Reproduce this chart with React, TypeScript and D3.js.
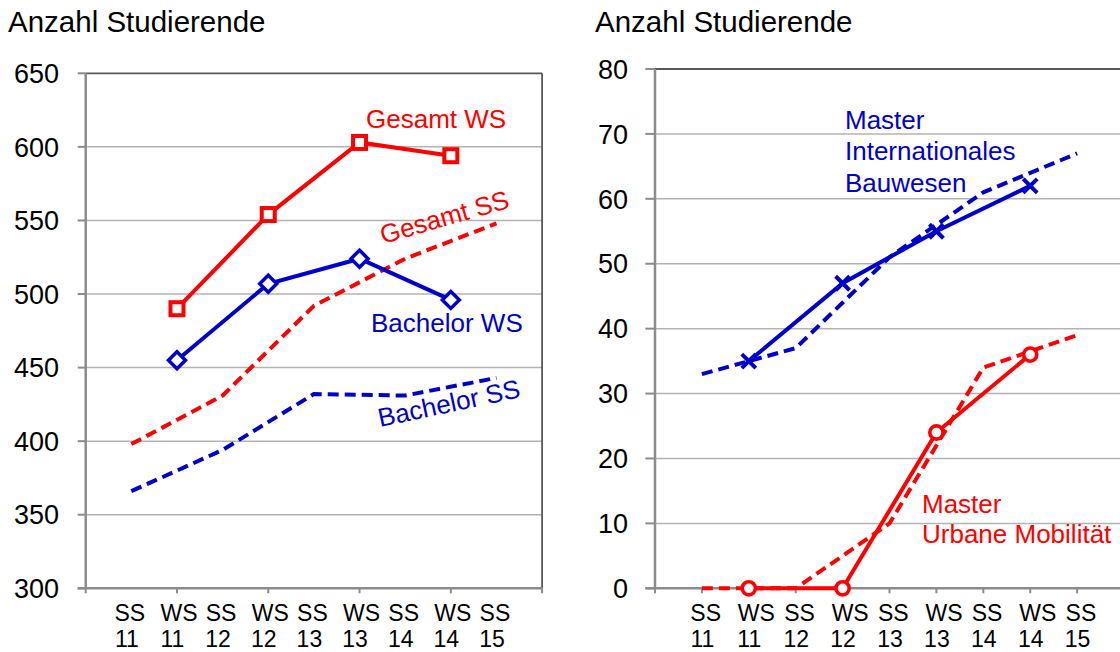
import React from "react";
import * as d3 from "d3";

// ---------- data ----------
const categories = ["SS|11", "WS|11", "SS|12", "WS|12", "SS|13", "WS|13", "SS|14", "WS|14", "SS|15"];
// indices of categories: WS = 1,3,5,7 ; SS = 0,2,4,6,8
const wsIdx = [1, 3, 5, 7];
const ssIdx = [0, 2, 4, 6, 8];

const leftTicks = [300, 350, 400, 450, 500, 550, 600, 650];
const gesamtWS = [490, 554, 603, 594];
const bachelorWS = [455, 507, 524, 496];
const gesamtSS = [398, 431, 492, 524, 548];
const bachelorSS = [366, 394, 432, 431, 443];

const rightTicks = [0, 10, 20, 30, 40, 50, 60, 70, 80];
const bauwesenWS = [35, 47, 55, 62];
const bauwesenSS = [33, 37, 51, 61, 67];
const urbanWS = [0, 0, 24, 36];
const urbanSS = [0, 0, 10, 34, 39];

const RED = "#FF0000";
const BLUE = "#0000CC";
const FONT = "'Liberation Sans', Arial, sans-serif";

type Pt = [number, number];

function marker(kind: string, x: number, y: number, color: string, key: string) {
  if (kind === "square") {
    const s = 6.5;
    return <rect key={key} x={x - s} y={y - s} width={2 * s} height={2 * s} fill="#fff" stroke={color} strokeWidth={4} />;
  }
  if (kind === "diamond") {
    const s = 8.5;
    return <path key={key} d={`M${x},${y - s}L${x + s},${y}L${x},${y + s}L${x - s},${y}Z`} fill="#fff" stroke={color} strokeWidth={3.5} />;
  }
  if (kind === "circle") {
    return <circle key={key} cx={x} cy={y} r={6.6} fill="#fff" stroke={color} strokeWidth={3.6} />;
  }
  const s = 7;
  return <path key={key} d={`M${x - s},${y - s}L${x + s},${y + s}M${x - s},${y + s}L${x + s},${y - s}`} stroke={color} strokeWidth={4} fill="none" />;
}

function Panel(props: {
  x0: number; x1: number; yTop: number; yBot: number; domain: [number, number]; ticks: number[];
  labelEnd: number; tickLen: number; everyTick: boolean; l1dx: [number, number]; l2dx: number;
  series: { idx: number[]; values: number[]; color: string; dashed: boolean; marker?: string }[];
  children?: (x: d3.ScaleLinear<number, number>, y: d3.ScaleLinear<number, number>) => React.ReactNode;
}) {
  const { x0, x1, yTop, yBot, domain, ticks } = props;
  const x = d3.scaleLinear().domain([-1, 9]).range([x0, x1]);
  const y = d3.scaleLinear().domain(domain).range([yBot, yTop]);
  const line = d3.line<Pt>().x((d) => x(d[0])).y((d) => y(d[1]));
  const xTickIdx = d3.range(-1, 10).filter((i) => props.everyTick || i % 2 !== 0);
  return (
    <g>
      {ticks.slice(1, -1).map((t) => (
        <line key={"g" + t} x1={x0} x2={x1} y1={y(t)} y2={y(t)} stroke="#B3B3B3" strokeWidth={1.5} />
      ))}
      <line x1={x0} x2={x1} y1={y(ticks[ticks.length - 1])} y2={y(ticks[ticks.length - 1])} stroke="#595959" strokeWidth={1.8} />
      <line x1={x1} x2={x1} y1={yTop} y2={yBot} stroke="#595959" strokeWidth={1.8} />
      {ticks.map((t) => (
        <g key={"t" + t}>
          <line x1={x0 - props.tickLen} x2={x0} y1={y(t)} y2={y(t)} stroke="#8C8C8C" strokeWidth={2} />
          <text x={props.labelEnd} y={y(t)} dy="0.36em" textAnchor="end" fontSize={27} fontFamily={FONT} fill="#000">{t}</text>
        </g>
      ))}
      {xTickIdx.map((i) => (
        <line key={"xt" + i} x1={x(i)} x2={x(i)} y1={yBot} y2={yBot + 5} stroke="#8C8C8C" strokeWidth={2} />
      ))}
      <line x1={x0} x2={x0} y1={yTop} y2={yBot} stroke="#8C8C8C" strokeWidth={2.5} />
      <line x1={x0 - props.tickLen} x2={x1} y1={yBot} y2={yBot} stroke="#8C8C8C" strokeWidth={2.5} />
      {categories.map((c, i) => {
        const [a, b] = c.split("|");
        const isSS = a === "SS";
        return (
          <text key={"c" + i} fontSize={23} fontFamily={FONT} textAnchor="middle" fill="#000">
            <tspan x={x(i) + (isSS ? props.l1dx[0] : props.l1dx[1])} y={621}>{a}</tspan>
            <tspan x={x(i) + props.l2dx} y={647}>{b}</tspan>
          </text>
        );
      })}
      {props.series.filter((s) => s.dashed).map((s, k) => (
        <path key={"d" + k} d={line(s.idx.map((i, j) => [i, s.values[j]] as Pt)) || ""} fill="none" stroke={s.color} strokeWidth={4} strokeDasharray="11 6" />
      ))}
      {props.series.filter((s) => !s.dashed).map((s, k) => (
        <g key={"s" + k}>
          <path d={line(s.idx.map((i, j) => [i, s.values[j]] as Pt)) || ""} fill="none" stroke={s.color} strokeWidth={4} />
          {s.idx.map((i, j) => marker(s.marker || "", x(i), y(s.values[j]), s.color, "m" + k + "_" + j))}
        </g>
      ))}
      {props.children && props.children(x, y)}
    </g>
  );
}

export default function App() {
  return (
    <svg width={1120} height={652} style={{ position: "absolute", left: 0, top: 0, background: "#fff" }}>
      <rect width={1120} height={652} fill="#fff" />
      <text x={8} y={32} fontSize={29.5} fontFamily={FONT} fill="#000">Anzahl Studierende</text>
      <text x={595} y={32} fontSize={29.5} fontFamily={FONT} fill="#000">Anzahl Studierende</text>
      <Panel
        x0={85.7} x1={542.1} yTop={73.3} yBot={588.3} domain={[300, 650]} ticks={leftTicks}
        labelEnd={59} tickLen={8} everyTick={false} l1dx={[-1.5, 2]} l2dx={-4.5}
        series={[
          { idx: ssIdx, values: gesamtSS, color: RED, dashed: true },
          { idx: ssIdx, values: bachelorSS, color: BLUE, dashed: true },
          { idx: wsIdx, values: gesamtWS, color: RED, dashed: false, marker: "square" },
          { idx: wsIdx, values: bachelorWS, color: BLUE, dashed: false, marker: "diamond" },
        ]}
      >
        {() => (
          <g fontFamily={FONT} fontSize={26}>
            <text x={366} y={128} fill={RED}>Gesamt WS</text>
            <text x={371} y={332} fill={BLUE}>Bachelor WS</text>
            <text transform="translate(383,244) rotate(-16)" fill={RED}>Gesamt SS</text>
            <text transform="translate(380,427) rotate(-12)" fill={BLUE}>Bachelor SS</text>
          </g>
        )}
      </Panel>
      <Panel
        x0={655} x1={1124} yTop={69} yBot={588.3} domain={[0, 80]} ticks={rightTicks}
        labelEnd={628} tickLen={9.6} everyTick={true} l1dx={[3.8, 7.6]} l2dx={0.5}
        series={[
          { idx: ssIdx, values: bauwesenSS, color: BLUE, dashed: true },
          { idx: ssIdx, values: urbanSS, color: RED, dashed: true },
          { idx: wsIdx, values: bauwesenWS, color: BLUE, dashed: false, marker: "x" },
          { idx: wsIdx, values: urbanWS, color: RED, dashed: false, marker: "circle" },
        ]}
      >
        {() => (
          <g fontFamily={FONT} fontSize={26}>
            <text x={845} y={129} fill={BLUE}>Master</text>
            <text x={845} y={160} fill={BLUE}>Internationales</text>
            <text x={845} y={191.5} fill={BLUE}>Bauwesen</text>
            <text x={922} y={512.5} fill={RED}>Master</text>
            <text x={922} y={543} fill={RED}>Urbane Mobilität</text>
          </g>
        )}
      </Panel>
    </svg>
  );
}
